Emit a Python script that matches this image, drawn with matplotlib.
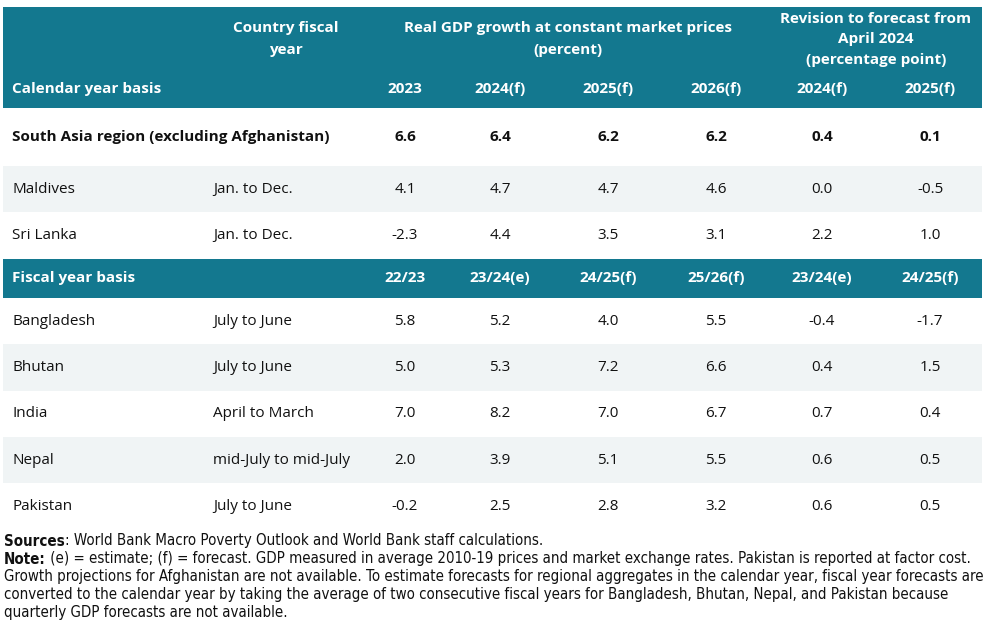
import matplotlib.pyplot as plt
from matplotlib.patches import Rectangle
from matplotlib import font_manager

# ---------------------------------------------------------- DATA ----------------------------------------------------------#
calendar_cols = ['2023', '2024(f)', '2025(f)', '2026(f)', '2024(f)', '2025(f)']
fiscal_cols = ['22/23', '23/24(e)', '24/25(f)', '25/26(f)', '23/24(e)', '24/25(f)']

region_name = 'South Asia region (excluding Afghanistan)'
region_values = ['6.6', '6.4', '6.2', '6.2', '0.4', '0.1']

calendar_countries = ['Maldives', 'Sri Lanka']
calendar_fy = ['Jan. to Dec.', 'Jan. to Dec.']
calendar_values = [
    ['4.1', '4.7', '4.7', '4.6', '0.0', '-0.5'],
    ['-2.3', '4.4', '3.5', '3.1', '2.2', '1.0'],
]

fiscal_countries = ['Bangladesh', 'Bhutan', 'India', 'Nepal', 'Pakistan']
fiscal_fy = ['July to June', 'July to June', 'April to March', 'mid-July to mid-July', 'July to June']
fiscal_values = [
    ['5.8', '5.2', '4.0', '5.5', '-0.4', '-1.7'],
    ['5.0', '5.3', '7.2', '6.6', '0.4', '1.5'],
    ['7.0', '8.2', '7.0', '6.7', '0.7', '0.4'],
    ['2.0', '3.9', '5.1', '5.5', '0.6', '0.5'],
    ['-0.2', '2.5', '2.8', '3.2', '0.6', '0.5'],
]

note_lines = [
    ('Sources', ': World Bank Macro Poverty Outlook and World Bank staff calculations.'),
    ('Note:', ' (e) = estimate; (f) = forecast. GDP measured in average 2010-19 prices and market exchange rates. Pakistan is reported at factor cost.'),
    ('', 'Growth projections for Afghanistan are not available. To estimate forecasts for regional aggregates in the calendar year, fiscal year forecasts are'),
    ('', 'converted to the calendar year by taking the average of two consecutive fiscal years for Bangladesh, Bhutan, Nepal, and Pakistan because'),
    ('', 'quarterly GDP forecasts are not available.'),
]

# ---------------------------------------------------------- STYLE ----------------------------------------------------------#
teal = '#13788f'
shade = '#f0f4f5'
ink = '#111111'
font = ['Open Sans', 'DejaVu Sans']
fs = 11

left, right = 3, 982
col_x = [405, 500, 608, 716, 822, 930]
label_x = 12
fy_x = 213

fig = plt.figure(figsize=(9.96, 6.24), dpi=100)
ax = fig.add_axes([0, 0, 1, 1])
ax.set_xlim(0, 996)
ax.set_ylim(624, 0)
ax.axis('off')


def band(y0, y1, color):
    ax.add_patch(Rectangle((left, y0), right - left, y1 - y0, color=color, lw=0))


def write(x, y, s, ha='left', bold=False, color=ink, size=fs):
    ax.text(x, y, s, ha=ha, va='center', fontsize=size, color=color,
            fontweight='bold' if bold else 'normal', family=font)


# Header block
band(7, 108, teal)
write(286, 28, 'Country fiscal', ha='center', bold=True, color='white')
write(286, 50, 'year', ha='center', bold=True, color='white')
write(568, 28, 'Real GDP growth at constant market prices', ha='center', bold=True, color='white')
write(568, 50, '(percent)', ha='center', bold=True, color='white')
write(876, 19, 'Revision to forecast from', ha='center', bold=True, color='white')
write(876, 39, 'April 2024', ha='center', bold=True, color='white')
write(876, 60, '(percentage point)', ha='center', bold=True, color='white')
write(label_x, 89, 'Calendar year basis', bold=True, color='white')
for x, c in zip(col_x, calendar_cols):
    write(x, 89, c, ha='center', bold=True, color='white')

# Region row
write(label_x, 137, region_name, bold=True)
for x, v in zip(col_x, region_values):
    write(x, 137, v, ha='center', bold=True)

# Calendar year countries
row_h = 46.3
y0 = 166
for i, (name, fy, vals) in enumerate(zip(calendar_countries, calendar_fy, calendar_values)):
    top = y0 + i * row_h
    if i % 2 == 0:
        band(top, top + row_h, shade)
    yc = top + row_h / 2
    write(label_x, yc, name)
    write(fy_x, yc, fy)
    for x, v in zip(col_x, vals):
        write(x, yc, v, ha='center')

# Fiscal year header
band(259, 298, teal)
write(label_x, 278, 'Fiscal year basis', bold=True, color='white')
for x, c in zip(col_x, fiscal_cols):
    write(x, 278, c, ha='center', bold=True, color='white')

# Fiscal year countries
y0 = 298
for i, (name, fy, vals) in enumerate(zip(fiscal_countries, fiscal_fy, fiscal_values)):
    top = y0 + i * row_h
    if i % 2 == 1:
        band(top, top + row_h, shade)
    yc = top + row_h / 2
    write(label_x, yc, name)
    write(fy_x, yc, fy)
    for x, v in zip(col_x, vals):
        write(x, yc, v, ha='center')

# Notes: narrow face; size it so the longest line spans about the figure width
note_fp = font_manager.FontProperties(family=['DejaVu Sans'], stretch='condensed', size=10.5)
note_y = [541, 559, 577, 594, 612]
renderer = fig.canvas.get_renderer()
inv = ax.transData.inverted()
probe = ax.text(4, 0, note_lines[2][1], fontproperties=note_fp)
bb = probe.get_window_extent(renderer)
probe.remove()
note_fp.set_size(10.5 * 986 / bb.width)
for y, (head, body) in zip(note_y, note_lines):
    x_end = 4
    if head:
        hp = note_fp.copy()
        hp.set_weight('bold')
        t = ax.text(4, y, head, ha='left', va='center', color=ink, fontproperties=hp)
        x_end = inv.transform((t.get_window_extent(renderer).x1, 0))[0]
    ax.text(x_end, y, body, ha='left', va='center', color=ink, fontproperties=note_fp)

fig.savefig('out.png', dpi=100)
